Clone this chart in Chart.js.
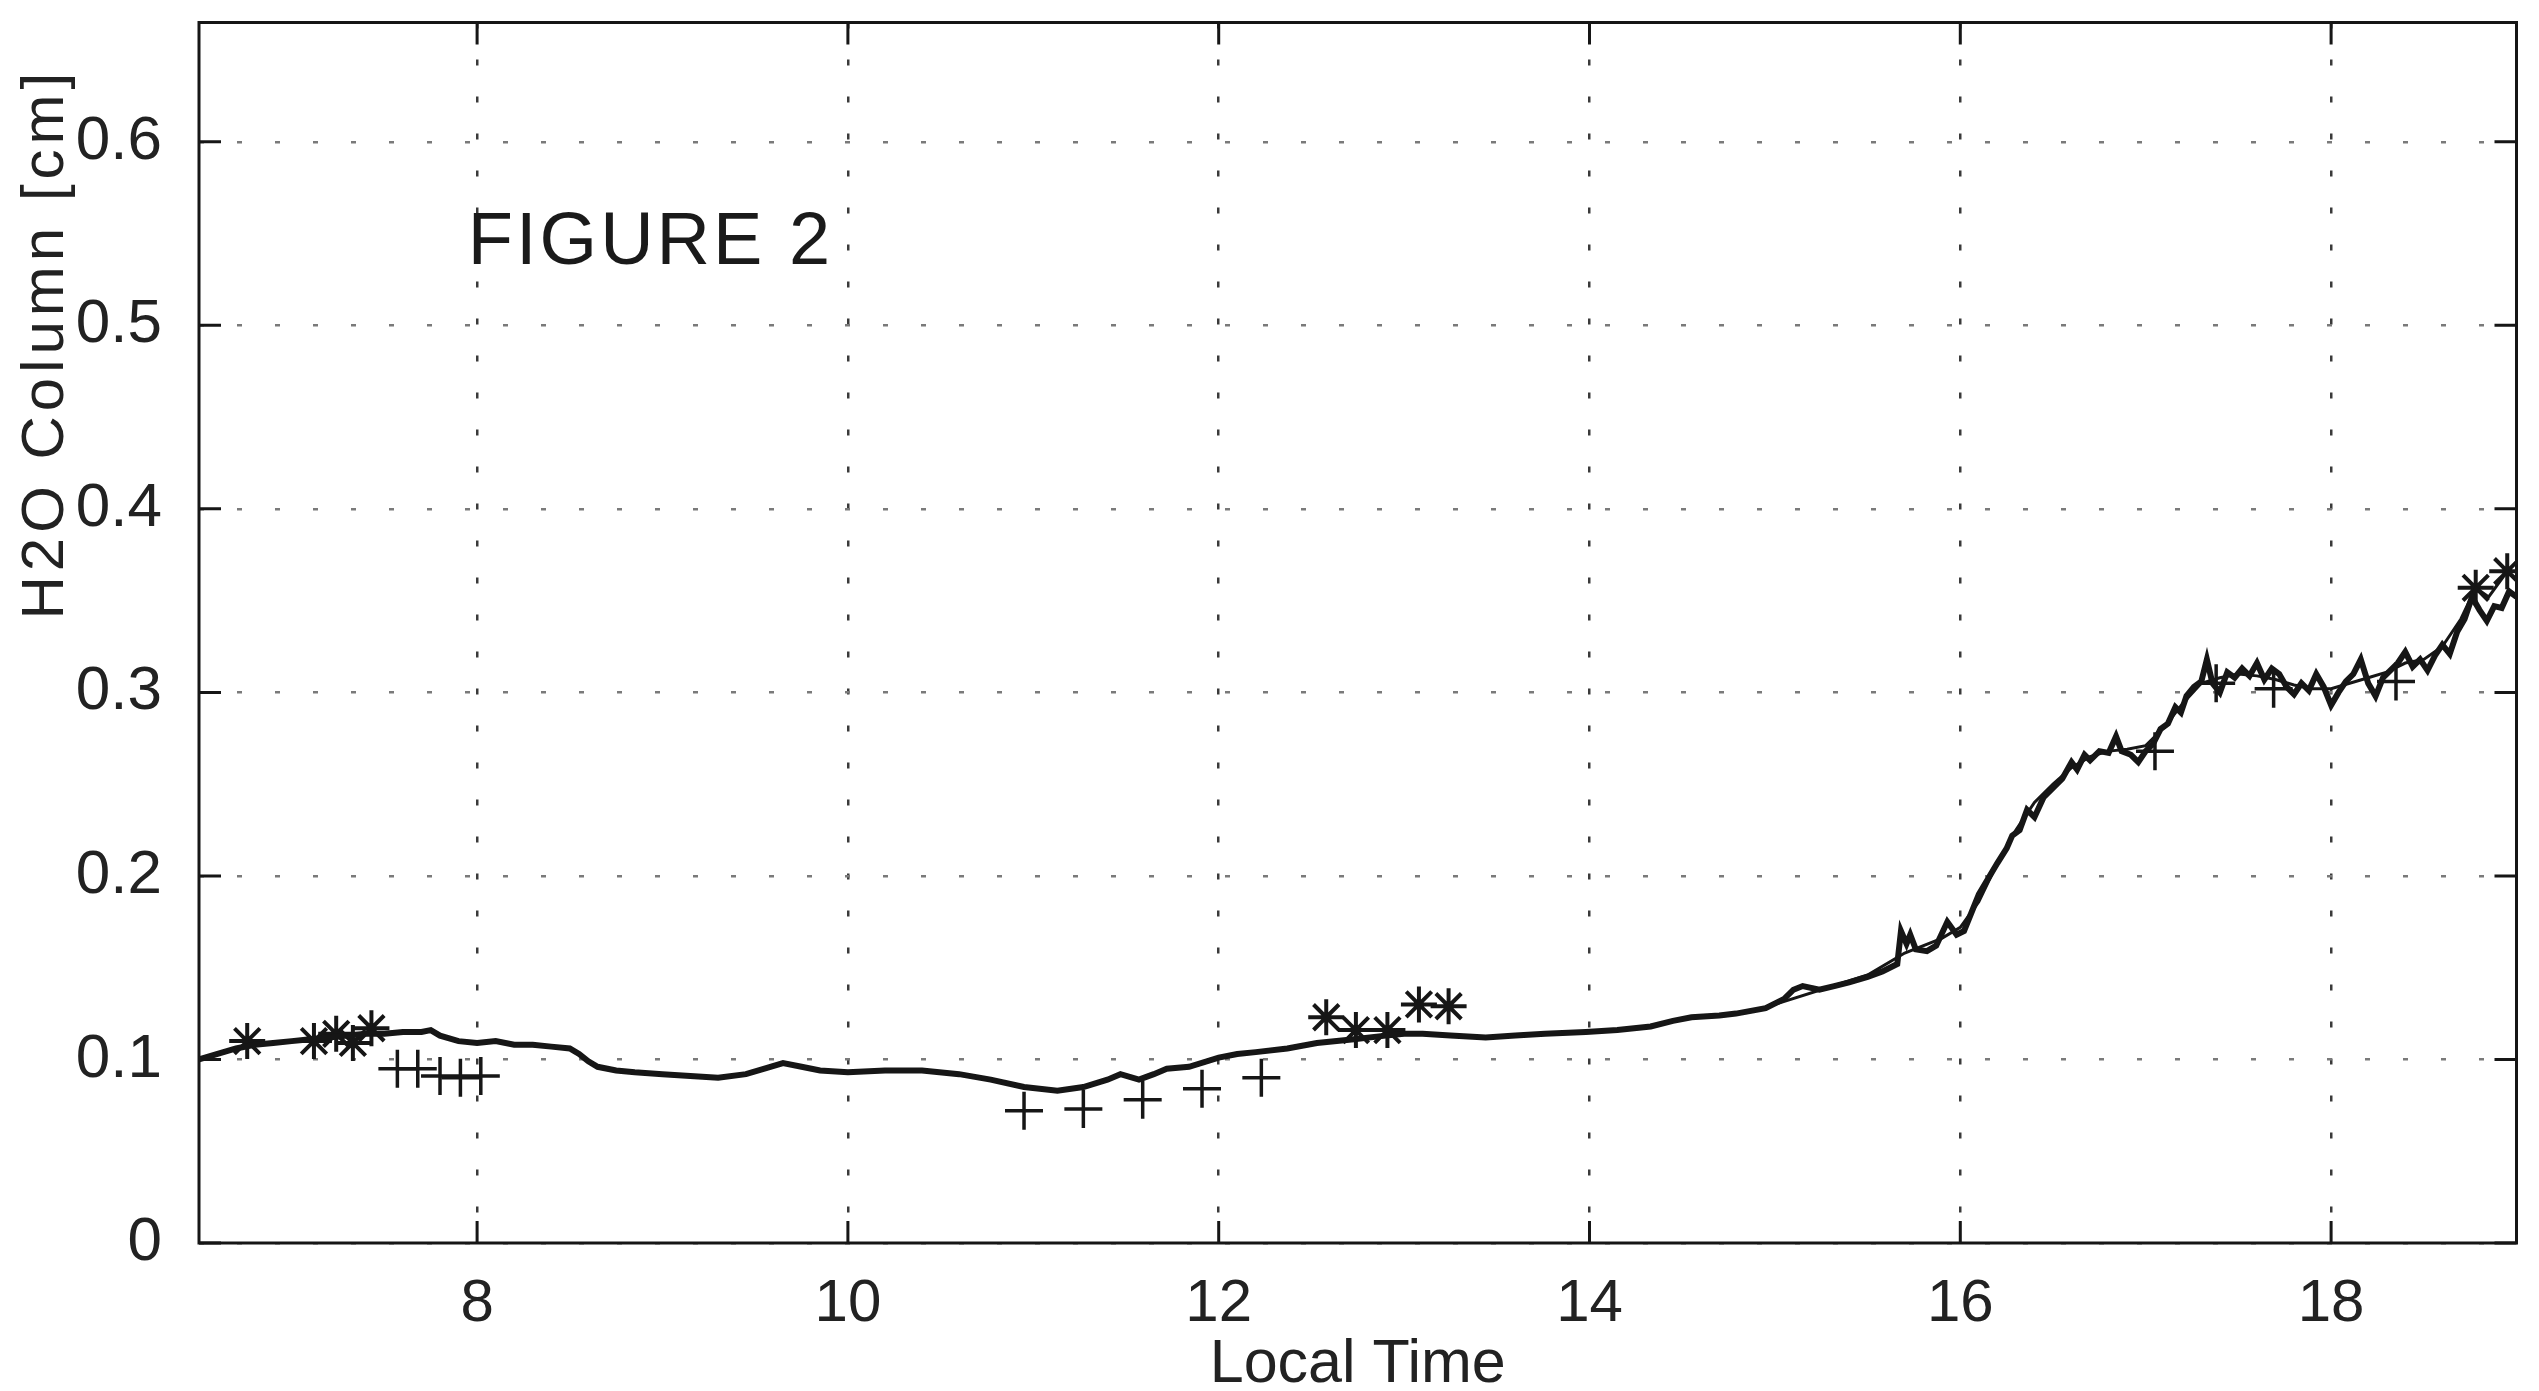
<!DOCTYPE html>
<html>
<head>
<meta charset="utf-8">
<title>H2O Column - Figure 2</title>
<script src="https://cdn.jsdelivr.net/npm/chart.js@4.4.1/dist/chart.umd.min.js"></script>
<style>
    html, body { margin: 0; padding: 0; background: #fff; overflow: hidden; }
    #wrap { width: 2539px; height: 1391px; position: relative; }
</style>
</head>
<body>
<div id="wrap"><canvas id="h2o_chart"></canvas></div>
<script>
// axis ticks
var xTicks = [8, 10, 12, 14, 16, 18];
var yTicks = [0, 0.1, 0.2, 0.3, 0.4, 0.5, 0.6];

// measured column (noisy trace)
var lineTimes = [6.50, 6.60, 6.70, 6.80, 6.90, 7.00, 7.10, 7.20, 7.30, 7.40, 7.50, 7.60, 7.70, 7.75, 7.80, 7.90, 8.00, 8.10, 8.20, 8.30,
    8.40, 8.50, 8.55, 8.60, 8.65, 8.75, 8.85, 9.00, 9.15, 9.30, 9.45, 9.55, 9.65, 9.75, 9.85, 10.00, 10.20, 10.40, 10.60, 10.77,
    10.95, 11.13, 11.27, 11.40, 11.47, 11.57, 11.65, 11.72, 11.84, 12.00, 12.10, 12.20, 12.37, 12.53, 12.73, 12.90, 13.00, 13.10, 13.25, 13.44,
    13.60, 13.76, 13.98, 14.15, 14.33, 14.45, 14.55, 14.70, 14.79, 14.95, 15.05, 15.10, 15.15, 15.24, 15.32, 15.40, 15.50, 15.58, 15.66, 15.68,
    15.71, 15.73, 15.76, 15.82, 15.87, 15.93, 15.98, 16.02, 16.10, 16.20, 16.25, 16.28, 16.32, 16.36, 16.40, 16.45, 16.50, 16.55, 16.60, 16.63,
    16.67, 16.70, 16.75, 16.80, 16.84, 16.87, 16.92, 16.96, 17.00, 17.04, 17.08, 17.12, 17.16, 17.19, 17.22, 17.26, 17.30, 17.33, 17.36, 17.40,
    17.44, 17.48, 17.52, 17.56, 17.60, 17.64, 17.68, 17.72, 17.76, 17.80, 17.84, 17.88, 17.92, 17.96, 18.00, 18.04, 18.08, 18.12, 18.16, 18.20,
    18.24, 18.28, 18.32, 18.36, 18.40, 18.44, 18.48, 18.52, 18.56, 18.60, 18.64, 18.68, 18.72, 18.76, 18.80, 18.84, 18.88, 18.92, 18.96, 19.00];
var lineH2O = [0.100, 0.103, 0.106, 0.108, 0.109, 0.110, 0.111, 0.112, 0.113, 0.114, 0.114, 0.115, 0.115, 0.116, 0.113, 0.110, 0.109, 0.110, 0.108, 0.108,
    0.107, 0.106, 0.103, 0.099, 0.096, 0.094, 0.093, 0.092, 0.091, 0.090, 0.092, 0.095, 0.098, 0.096, 0.094, 0.093, 0.094, 0.094, 0.092, 0.089,
    0.085, 0.083, 0.085, 0.089, 0.092, 0.089, 0.092, 0.095, 0.096, 0.101, 0.103, 0.104, 0.106, 0.109, 0.111, 0.113, 0.114, 0.114, 0.113, 0.112,
    0.113, 0.114, 0.115, 0.116, 0.118, 0.121, 0.123, 0.124, 0.125, 0.128, 0.133, 0.138, 0.140, 0.138, 0.140, 0.142, 0.145, 0.148, 0.152, 0.170,
    0.163, 0.168, 0.160, 0.159, 0.162, 0.175, 0.168, 0.170, 0.190, 0.207, 0.215, 0.222, 0.225, 0.236, 0.232, 0.243, 0.248, 0.253, 0.262, 0.258,
    0.266, 0.263, 0.268, 0.267, 0.276, 0.268, 0.266, 0.262, 0.268, 0.272, 0.280, 0.283, 0.292, 0.289, 0.298, 0.303, 0.306, 0.318, 0.305, 0.300,
    0.311, 0.308, 0.313, 0.309, 0.316, 0.307, 0.313, 0.310, 0.303, 0.299, 0.305, 0.301, 0.310, 0.303, 0.293, 0.300, 0.306, 0.310, 0.318, 0.305,
    0.298, 0.308, 0.312, 0.316, 0.322, 0.314, 0.318, 0.312, 0.320, 0.326, 0.321, 0.333, 0.340, 0.352, 0.345, 0.339, 0.347, 0.346, 0.355, 0.352];

// smoother trace over the afternoon rise
var fitTimes = [15.0, 15.5, 15.7, 15.9, 16.0, 16.1, 16.2, 16.3, 16.4, 16.5, 16.6, 16.7, 16.8, 16.9, 17.0, 17.1, 17.2, 17.3, 17.4, 17.5,
    17.6, 17.7, 17.8, 17.9, 18.0, 18.1, 18.2, 18.3, 18.4, 18.5, 18.6, 18.7, 18.78, 18.85, 18.95, 19.0];
var fitH2O = [0.130, 0.146, 0.158, 0.166, 0.172, 0.186, 0.207, 0.225, 0.240, 0.250, 0.259, 0.265, 0.268, 0.269, 0.271, 0.281, 0.294, 0.305, 0.308, 0.310,
    0.309, 0.307, 0.304, 0.302, 0.302, 0.305, 0.308, 0.311, 0.316, 0.318, 0.325, 0.340, 0.357, 0.352, 0.366, 0.362];

// asterisk samples
var starTimes = [6.76, 7.12, 7.24, 7.33, 7.43, 12.58, 12.74, 12.91, 13.08, 13.24, 18.78, 18.95];
var starH2O = [0.110, 0.110, 0.114, 0.109, 0.117, 0.123, 0.116, 0.116, 0.130, 0.129, 0.357, 0.366];

// plus samples
var plusTimes = [7.57, 7.68, 7.80, 7.91, 8.02, 10.95, 11.27, 11.59, 11.91, 12.23, 17.05, 17.38, 17.69, 18.35];
var plusH2O = [0.095, 0.095, 0.091, 0.090, 0.091, 0.072, 0.073, 0.078, 0.084, 0.090, 0.268, 0.305, 0.302, 0.306];

var figureLabel = 'FIGURE 2';
var figureLabelAt = [7.95, 0.5335];
var yTitle = 'H2O Column [cm]';

var FONT = '"Liberation Sans", Helvetica, Arial, sans-serif';
var INK = '#161616';

function toPoints(xs, ys) {
    var pts = [];
    for (var i = 0; i < xs.length; i++) {
        pts.push({ x: xs[i], y: ys[i] });
    }
    return pts;
}

// frame, inward tick marks on all four sides, figure label, y title
var frameTicks = {
    id: 'frameTicks',
    afterDraw: function (chart) {
        var ctx = chart.ctx;
        var a = chart.chartArea;
        var xs = chart.scales.x;
        var ys = chart.scales.y;
        var len = 22;
        ctx.save();
        ctx.strokeStyle = INK;
        ctx.lineWidth = 3;
        ctx.strokeRect(a.left, a.top, a.right - a.left, a.bottom - a.top);
        ctx.beginPath();
        xTicks.forEach(function (t) {
            var px = xs.getPixelForValue(t);
            ctx.moveTo(px, a.bottom); ctx.lineTo(px, a.bottom - len);
            ctx.moveTo(px, a.top); ctx.lineTo(px, a.top + len);
        });
        yTicks.forEach(function (t) {
            var py = ys.getPixelForValue(t);
            ctx.moveTo(a.left, py); ctx.lineTo(a.left + len, py);
            ctx.moveTo(a.right, py); ctx.lineTo(a.right - len, py);
        });
        ctx.stroke();

        ctx.fillStyle = '#1a1a1a';
        ctx.font = '74px ' + FONT;
        ctx.letterSpacing = '3px';
        ctx.textAlign = 'left';
        ctx.textBaseline = 'alphabetic';
        ctx.fillText(figureLabel, xs.getPixelForValue(figureLabelAt[0]), ys.getPixelForValue(figureLabelAt[1]));

        // y title sits in the upper half, as in the print
        ctx.fillStyle = '#222';
        ctx.font = '60px ' + FONT;
        ctx.letterSpacing = '5px';
        ctx.textAlign = 'center';
        ctx.textBaseline = 'middle';
        ctx.translate(46, ys.getPixelForValue(0.49));
        ctx.rotate(-Math.PI / 2);
        ctx.fillText(yTitle, 0, 0);
        ctx.restore();
    }
};

function buildChart() {
    var ctx = document.getElementById('h2o_chart');
    new Chart(ctx, {
        type: 'scatter',
        data: {
            datasets: [{
                label: 'measured',
                data: toPoints(lineTimes, lineH2O),
                showLine: true,
                borderColor: INK,
                borderWidth: 6,
                pointRadius: 0,
                tension: 0
            }, {
                label: 'smoothed',
                data: toPoints(fitTimes, fitH2O),
                showLine: true,
                borderColor: INK,
                borderWidth: 3,
                pointRadius: 0,
                tension: 0
            }, {
                label: 'asterisk',
                data: toPoints(starTimes, starH2O),
                pointStyle: 'star',
                pointRadius: 18,
                pointBorderWidth: 4,
                pointBorderColor: INK,
                pointBackgroundColor: INK
            }, {
                label: 'plus',
                data: toPoints(plusTimes, plusH2O),
                pointStyle: 'cross',
                pointRadius: 19,
                pointBorderWidth: 3.5,
                pointBorderColor: INK,
                pointBackgroundColor: INK
            }]
        },
        options: {
            responsive: true,
            maintainAspectRatio: false,
            animation: false,
            layout: { padding: { top: 13, right: 2, left: 0, bottom: 0 } },
            plugins: {
                legend: { display: false },
                tooltip: { enabled: false }
            },
            scales: {
                x: {
                    type: 'linear',
                    min: 6.5,
                    max: 19,
                    afterBuildTicks: function (axis) {
                        axis.ticks = xTicks.map(function (v) { return { value: v }; });
                    },
                    afterFit: function (axis) {
                        axis.height = 148;
                        axis.paddingLeft = 0;
                        axis.paddingRight = 0;
                    },
                    grid: { color: '#3a3a3a', lineWidth: 2.5, drawTicks: false },
                    border: { display: false, dash: [6, 31] },
                    ticks: {
                        color: '#222',
                        padding: 25,
                        maxRotation: 0,
                        font: { family: FONT, size: 60 }
                    },
                    title: {
                        display: true,
                        text: 'Local Time',
                        color: '#222',
                        padding: { top: 0, bottom: 0 },
                        font: { family: FONT, size: 61, lineHeight: 0.86 }
                    }
                },
                y: {
                    type: 'linear',
                    min: 0,
                    max: 0.665,
                    afterBuildTicks: function (axis) {
                        axis.ticks = yTicks.map(function (v) { return { value: v }; });
                    },
                    afterFit: function (axis) {
                        axis.width = 199;
                        axis.paddingTop = 0;
                        axis.paddingBottom = 0;
                    },
                    grid: { color: '#7a7a7a', lineWidth: 2.5, drawTicks: false },
                    border: { display: false, dash: [5, 33] },
                    ticks: {
                        color: '#222',
                        padding: 37,
                        font: { family: FONT, size: 62 },
                        callback: function (v) { return String(v); }
                    }
                }
            }
        },
        plugins: [frameTicks]
    });
}

buildChart();
</script>
</body>
</html>
